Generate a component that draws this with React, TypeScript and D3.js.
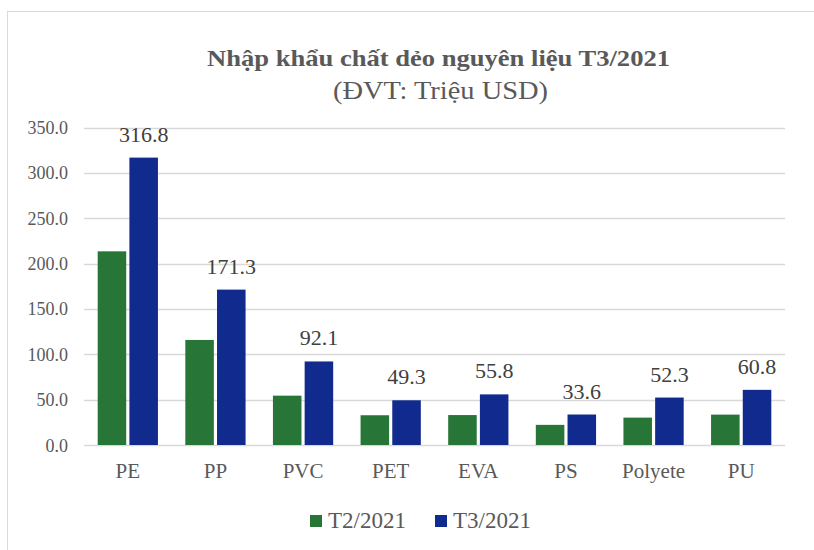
import { useEffect, useRef } from 'react';
import * as d3 from 'd3';

const categories = ['PE', 'PP', 'PVC', 'PET', 'EVA', 'PS', 'Polyete', 'PU'];
const seriesNames = ['T2/2021', 'T3/2021'];
const t2Values = [213.5, 115.8, 54.4, 32.8, 33.0, 22.2, 30.2, 33.5];
const t3Values = [316.8, 171.3, 92.1, 49.3, 55.8, 33.6, 52.3, 60.8];
const yTicks = [0, 50, 100, 150, 200, 250, 300, 350];

const App = () => {
  const svgRef = useRef(null);
  const colors = ['#287637', '#112a8d'];

  useEffect(() => {
    if (!svgRef.current) return;
    const width = 814;
    const height = 550;
    const margin = { left: 84, right: 29, top: 127.5, bottom: 105 };
    const font = "'Liberation Serif', 'Times New Roman', 'DejaVu Serif', serif";
    const textColor = '#595959';

    const svg = d3
      .select(svgRef.current)
      .attr('width', width)
      .attr('height', height)
      .style('font-family', font);
    svg.selectAll('*').remove();

    // khung ngoài
    svg
      .append('rect')
      .attr('x', 7.5)
      .attr('y', 11.5)
      .attr('width', 830)
      .attr('height', 570)
      .attr('fill', '#fff')
      .attr('stroke', '#d9d9d9');

    const x0 = d3
      .scaleBand()
      .domain(categories)
      .range([margin.left, width - margin.right])
      .paddingInner(0.24)
      .paddingOuter(0.12);

    const x1 = d3.scaleBand().domain(seriesNames).range([0, x0.bandwidth()]).padding(0.1);

    const y = d3
      .scaleLinear()
      .domain([0, 350])
      .range([height - margin.bottom, margin.top]);

    // gridlines
    svg
      .append('g')
      .selectAll('line')
      .data(yTicks)
      .join('line')
      .attr('x1', margin.left)
      .attr('x2', width - margin.right)
      .attr('y1', (d) => Math.round(y(d)) + 0.5)
      .attr('y2', (d) => Math.round(y(d)) + 0.5)
      .attr('stroke', '#d9d9d9')
      .attr('stroke-width', 1.5);

    // y labels
    svg
      .append('g')
      .selectAll('text')
      .data(yTicks)
      .join('text')
      .attr('x', 68)
      .attr('y', (d) => y(d) + 6.5)
      .attr('text-anchor', 'end')
      .style('font-size', '18px')
      .attr('fill', textColor)
      .text((d) => d3.format('.1f')(d));

    const series = [t2Values, t3Values];
    series.forEach((vals, si) => {
      const g = svg.append('g');
      g.selectAll('rect')
        .data(vals)
        .join('rect')
        .attr('x', (_, i) => x0(categories[i])! + x1(seriesNames[si])!)
        .attr('y', (d) => y(d))
        .attr('width', x1.bandwidth())
        .attr('height', (d) => y(0) - y(d))
        .attr('fill', colors[si]);
    });

    // nhãn số liệu T3
    svg
      .append('g')
      .selectAll('text')
      .data(t3Values)
      .join('text')
      .attr('x', (_, i) => x0(categories[i])! + x1(seriesNames[1])! + x1.bandwidth() / 2)
      .attr('y', (d) => y(d) - 16)
      .attr('text-anchor', 'middle')
      .style('font-size', '22px')
      .attr('fill', '#404040')
      .text((d) => d3.format('.1f')(d));

    // category labels
    svg
      .append('g')
      .selectAll('text')
      .data(categories)
      .join('text')
      .attr('x', (d) => x0(d)! + x0.bandwidth() / 2)
      .attr('y', 478)
      .attr('text-anchor', 'middle')
      .style('font-size', '21px')
      .attr('fill', textColor)
      .text((d) => d);

    // title
    svg
      .append('text')
      .attr('x', 207)
      .attr('y', 66)
      .attr('textLength', 463)
      .attr('lengthAdjust', 'spacingAndGlyphs')
      .style('font-size', '23px')
      .attr('font-weight', 'bold')
      .attr('fill', textColor)
      .text('Nhập khẩu chất dẻo nguyên liệu T3/2021');

    svg
      .append('text')
      .attr('x', 333)
      .attr('y', 99)
      .attr('textLength', 215)
      .attr('lengthAdjust', 'spacingAndGlyphs')
      .style('font-size', '26px')
      .attr('fill', textColor)
      .text('(ĐVT: Triệu USD)');

    // legend
    const legendX = [310, 435];
    seriesNames.forEach((name, i) => {
      svg
        .append('rect')
        .attr('x', legendX[i])
        .attr('y', 515)
        .attr('width', 12)
        .attr('height', 12)
        .attr('fill', colors[i]);
      svg
        .append('text')
        .attr('x', legendX[i] + 18)
        .attr('y', 528)
        .style('font-size', '23px')
        .attr('fill', textColor)
        .text(name);
    });
  }, []);

  return <svg ref={svgRef} style={{ position: 'absolute', left: 0, top: 0 }}></svg>;
};

export default App;
